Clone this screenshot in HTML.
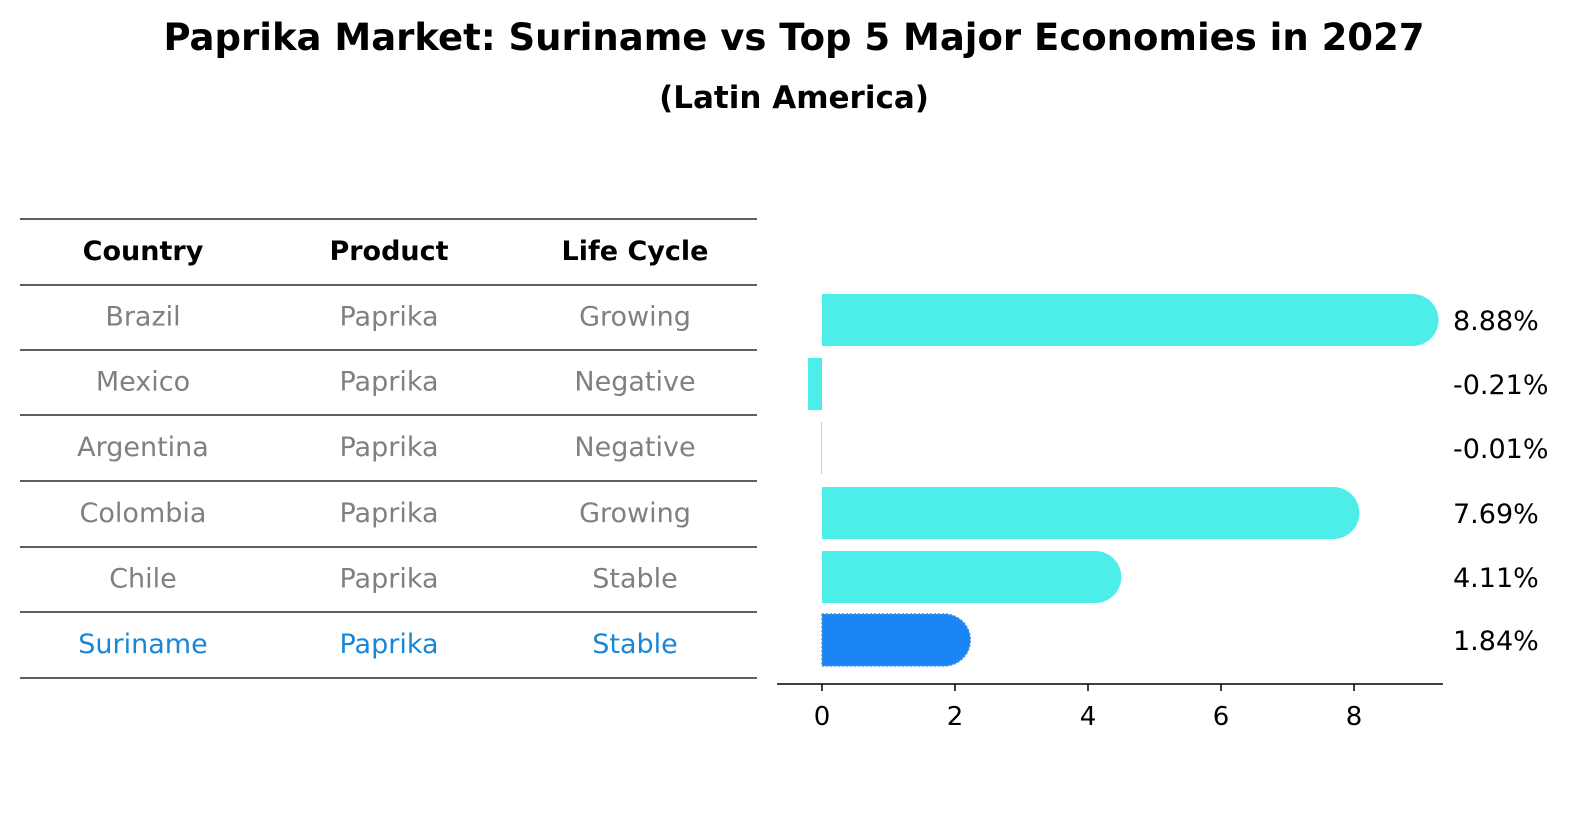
<!DOCTYPE html>
<html><head><meta charset="utf-8"><style>
html,body{margin:0;padding:0;background:#fff}
body{width:1596px;height:823px;overflow:hidden;font-family:"DejaVu Sans","Liberation Sans",sans-serif}
</style></head><body>
<svg id="c" width="1596" height="823" xmlns="http://www.w3.org/2000/svg" font-family="DejaVu Sans, Liberation Sans, sans-serif">
<text x="794" y="50" text-anchor="middle" font-size="37" font-weight="bold">Paprika Market: Suriname vs Top 5 Major Economies in 2027</text>
<text x="794" y="108" text-anchor="middle" font-size="31" font-weight="bold">(Latin America)</text>
<g id="table"></g>
<g id="bars"></g>
</svg>
<script>
const countries=["Brazil","Mexico","Argentina","Colombia","Chile","Suriname"];
const products=["Paprika","Paprika","Paprika","Paprika","Paprika","Paprika"];
const lifeCycles=["Growing","Negative","Negative","Growing","Stable","Stable"];
const growth=[8.88,-0.21,-0.01,7.69,4.11,1.84];
const valueLabels=["8.88%","-0.21%","-0.01%","7.69%","4.11%","1.84%"];
const xTicks=[0,2,4,6,8];
const headers=["Country","Product","Life Cycle"];

const NS="http://www.w3.org/2000/svg";
function mk(p,t,a,txt){const e=document.createElementNS(NS,t);for(const k in a)e.setAttribute(k,a[k]);if(txt!==undefined)e.textContent=txt;p.appendChild(e);return e;}
const tbl=document.getElementById('table');
const lineYs=[219,285,350,415,481,547,612,678];
const colX=[143,389,635];
lineYs.forEach((y,i)=>{const l=mk(tbl,'line',{x1:20,x2:757,y1:y,y2:y,stroke:'#000','stroke-width':1.2});

});
headers.forEach((h,j)=>{const t=mk(tbl,'text',{x:colX[j],y:260,'text-anchor':'middle','font-size':27,'font-weight':'bold'},h);

});
countries.forEach((c,i)=>{
  const y=(lineYs[i+1]+lineYs[i+2])/2+8;
  const col=i===countries.length-1?'#1a86d6':'#808080';
  [c,products[i],lifeCycles[i]].forEach((v,j)=>{const t=mk(tbl,'text',{x:colX[j],y:y,'text-anchor':'middle','font-size':27,fill:col},v);
  
  });
});

const g=document.getElementById('bars');
const x0=822,unit=66.5;
function xs(v){return x0+v*unit;}
const rowY=[320,384,448,513,577,640];
const bh=52,r=26;
growth.forEach((v,i)=>{
  const cy=rowY[i],top=cy-bh/2;
  const fill=i===growth.length-1?'#1a86f5':'#4deeea';
  let el;
  if(v>0){
    const xe=xs(v);
    el=mk(g,'path',{d:`M${x0},${top} H${xe} A${r},${r} 0 0 1 ${xe},${top+bh} H${x0} Z`,fill:fill});
    if(i===growth.length-1){el.setAttribute('stroke','#4a90e2');el.setAttribute('stroke-dasharray','2,2');el.setAttribute('stroke-width','1.5');}
  } else {
    const xe=xs(v);
    el=mk(g,'rect',{x:Math.min(xe,x0),y:top,width:Math.abs(x0-xe),height:bh,fill:fill});
  }
  
  
  const t=mk(g,'text',{x:1453,y:cy+10,'font-size':27},valueLabels[i]);
  
  
});
const ax=mk(g,'line',{x1:777,x2:1443,y1:684,y2:684,stroke:'#000','stroke-width':1.5});


xTicks.forEach(v=>{
  const tk=mk(g,'line',{x1:xs(v),x2:xs(v),y1:684,y2:691,stroke:'#000','stroke-width':1.5});
  
  
  const t=mk(g,'text',{x:xs(v),y:725,'text-anchor':'middle','font-size':26},String(v));
  
  
});
</script>
</body></html>
